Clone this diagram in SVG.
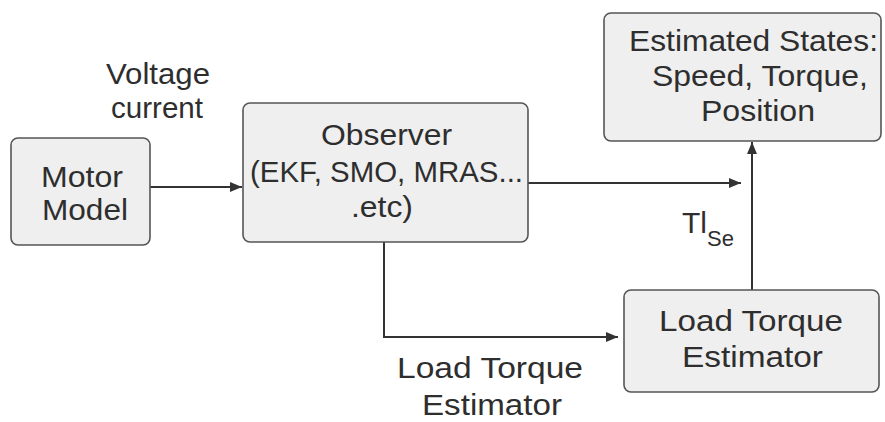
<svg xmlns="http://www.w3.org/2000/svg" width="885" height="422" viewBox="0 0 885 422">
<defs>
<style>
.box{fill:#efefef;stroke:#555;stroke-width:1.6}
.t{font-family:"Liberation Sans",Arial,sans-serif;font-size:30px;fill:#2e2e2e}
.c{fill:none;stroke:#333;stroke-width:2}
</style>
<marker id="ah" viewBox="0 0 12 10" refX="12" refY="5" markerWidth="12" markerHeight="10" markerUnits="userSpaceOnUse" orient="auto">
<path d="M0,0 L12,5 L0,10 Z" fill="#333"/>
</marker>
</defs>
<rect width="885" height="422" fill="#fff"/>
<g id="connectors">
<line class="c" x1="150" y1="187" x2="242" y2="187" marker-end="url(#ah)"/>
<line class="c" x1="528" y1="183" x2="741" y2="183" marker-end="url(#ah)"/>
<polyline class="c" points="384,242 384,337 618,337" marker-end="url(#ah)"/>
<line class="c" x1="752" y1="290" x2="752" y2="142" marker-end="url(#ah)"/>
</g>
<g id="label-voltage">
<text class="t" x="106" y="84" textLength="104" lengthAdjust="spacingAndGlyphs">Voltage</text>
<text class="t" x="111" y="118" textLength="92" lengthAdjust="spacingAndGlyphs">current</text>
</g>
<g id="motor-model">
<rect class="box" x="11" y="138" width="139" height="107" rx="7"/>
<text class="t" x="41" y="187" textLength="82" lengthAdjust="spacingAndGlyphs">Motor</text>
<text class="t" x="42" y="220" textLength="86" lengthAdjust="spacingAndGlyphs">Model</text>
</g>
<g id="observer">
<rect class="box" x="243" y="103" width="285" height="139" rx="7"/>
<text class="t" x="321" y="145" textLength="131" lengthAdjust="spacingAndGlyphs">Observer</text>
<text class="t" x="250" y="182" textLength="273" lengthAdjust="spacingAndGlyphs">(EKF, SMO, MRAS...</text>
<text class="t" x="351" y="217" textLength="62" lengthAdjust="spacingAndGlyphs">.etc)</text>
</g>
<g id="estimated-states">
<rect class="box" x="604" y="13" width="277" height="128" rx="7"/>
<text class="t" x="629" y="51" textLength="249" lengthAdjust="spacingAndGlyphs">Estimated States:</text>
<text class="t" x="652" y="86" textLength="216" lengthAdjust="spacingAndGlyphs">Speed, Torque,</text>
<text class="t" x="701" y="121" textLength="114" lengthAdjust="spacingAndGlyphs">Position</text>
</g>
<g id="load-torque-estimator">
<rect class="box" x="624" y="290" width="255" height="102" rx="7"/>
<text class="t" x="659" y="331" textLength="184" lengthAdjust="spacingAndGlyphs">Load Torque</text>
<text class="t" x="682" y="367" textLength="141" lengthAdjust="spacingAndGlyphs">Estimator</text>
</g>
<g id="label-load">
<text class="t" x="397" y="378" textLength="186" lengthAdjust="spacingAndGlyphs">Load Torque</text>
<text class="t" x="422" y="415" textLength="140" lengthAdjust="spacingAndGlyphs">Estimator</text>
</g>
<g id="label-tl">
<text class="t" x="682" y="233">Tl<tspan font-size="22" dy="13">Se</tspan></text>
</g>
</svg>
